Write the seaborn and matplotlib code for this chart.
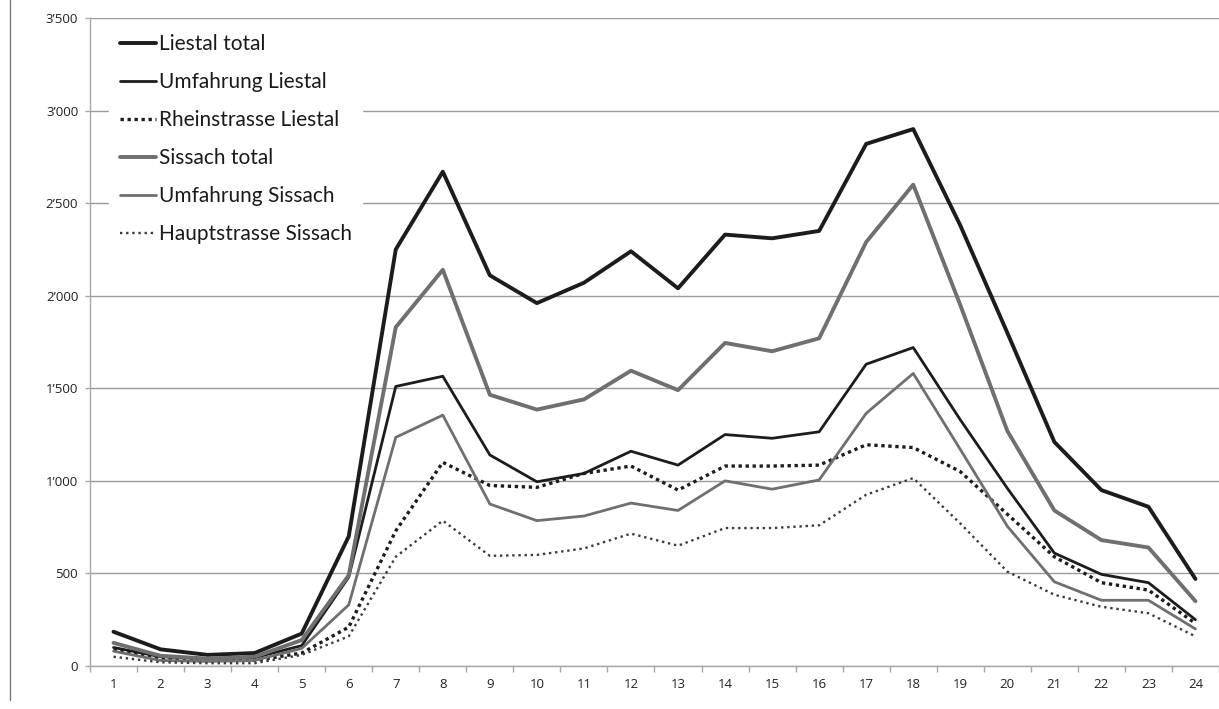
import matplotlib
matplotlib.use("Agg")
import matplotlib.pyplot as plt
from matplotlib.ticker import FuncFormatter, MultipleLocator, FixedLocator
from matplotlib.lines import Line2D
import seaborn as sns
import pandas as pd

hours = list(range(1, 25))

liestal_total = [185, 90, 60, 70, 175, 700, 2250, 2670, 2110, 1960, 2070, 2240,
                 2040, 2330, 2310, 2350, 2820, 2900, 2380, 1800, 1210, 950, 860, 470]
umfahrung_liestal = [100, 50, 40, 45, 110, 480, 1510, 1565, 1140, 995, 1040, 1160,
                     1085, 1250, 1230, 1265, 1630, 1720, 1330, 960, 610, 495, 450, 250]
rheinstrasse_liestal = [90, 40, 30, 30, 70, 210, 730, 1100, 975, 965, 1040, 1080,
                        950, 1080, 1080, 1085, 1195, 1180, 1050, 820, 590, 450, 410, 230]
sissach_total = [125, 55, 40, 50, 140, 490, 1830, 2140, 1465, 1385, 1440, 1595,
                 1490, 1745, 1700, 1770, 2290, 2600, 1950, 1270, 840, 680, 640, 350]
umfahrung_sissach = [80, 30, 25, 30, 95, 330, 1235, 1355, 875, 785, 810, 880,
                     840, 1000, 955, 1005, 1365, 1580, 1170, 755, 455, 355, 355, 200]
hauptstrasse_sissach = [50, 20, 15, 15, 60, 160, 590, 785, 595, 600, 635, 715,
                        650, 745, 745, 760, 925, 1015, 770, 510, 385, 320, 285, 160]

series_names = ["Liestal total", "Umfahrung Liestal", "Rheinstrasse Liestal",
                "Sissach total", "Umfahrung Sissach", "Hauptstrasse Sissach"]
series_values = [liestal_total, umfahrung_liestal, rheinstrasse_liestal,
                 sissach_total, umfahrung_sissach, hauptstrasse_sissach]

styles = {
    "Liestal total":        dict(color="#1c1c1c", lw=2.8, ls="-"),
    "Umfahrung Liestal":    dict(color="#1c1c1c", lw=2.0, ls="-"),
    "Rheinstrasse Liestal": dict(color="#1c1c1c", lw=2.4, ls=(0, (1, 1.1))),
    "Sissach total":        dict(color="#6f6f6f", lw=2.8, ls="-"),
    "Umfahrung Sissach":    dict(color="#6f6f6f", lw=2.0, ls="-"),
    "Hauptstrasse Sissach": dict(color="#3a3a3a", lw=1.7, ls=(0, (1, 1.6))),
}

df = pd.DataFrame({
    "Stunde": hours * len(series_names),
    "Fahrzeuge": [v for vals in series_values for v in vals],
    "Serie": [n for n in series_names for _ in hours],
})

sns.set_theme(style="white")
plt.rcParams["font.family"] = ["Lato", "DejaVu Sans"]

fig = plt.figure(figsize=(12.19, 7.09), dpi=100)
ax = fig.add_axes([90 / 1219, 1 - 666 / 709, 1 - 90 / 1219, (666 - 18) / 709])

for name in series_names:
    st = styles[name]
    sns.lineplot(data=df[df["Serie"] == name], x="Stunde", y="Fahrzeuge", ax=ax,
                 color=st["color"], linewidth=st["lw"], linestyle=st["ls"],
                 label=name, zorder=3)

ax.set_xlim(0.5, 24.5)
ax.set_ylim(0, 3500)
ax.set_xlabel("")
ax.set_ylabel("")


def swiss_thousands(v, pos):
    s = f"{int(round(v)):,}"
    return s.replace(",", "\u2019")


ax.yaxis.set_major_locator(MultipleLocator(500))
ax.yaxis.set_major_formatter(FuncFormatter(swiss_thousands))
ax.xaxis.set_major_locator(FixedLocator(hours))
ax.xaxis.set_minor_locator(FixedLocator([h + 0.5 for h in range(0, 25)]))

ax.grid(axis="y", color="#9a9a9a", linewidth=1.0, zorder=0)
ax.grid(axis="x", visible=False)
for side in ["top", "right"]:
    ax.spines[side].set_visible(False)
ax.spines["left"].set_color("#a8a8a8")
ax.spines["bottom"].set_color("#a8a8a8")
ax.spines["left"].set_linewidth(1.0)
ax.spines["bottom"].set_linewidth(1.0)

ax.tick_params(axis="y", which="major", left=True, length=3.5, width=1, color="#a8a8a8",
               labelsize=9.5, labelcolor="#222222", pad=5)
ax.tick_params(axis="x", which="major", bottom=False, length=0, labelsize=9.5,
               labelcolor="#222222", pad=9)
ax.tick_params(axis="x", which="minor", bottom=True, length=4, width=1, color="#a8a8a8")
for lab in ax.get_yticklabels() + ax.get_xticklabels():
    lab.set_family(["Open Sans", "DejaVu Sans"])

leg = ax.legend(loc="upper left", frameon=True,
                fontsize=15, handlelength=1.75, handletextpad=0.12,
                labelspacing=0.86, borderpad=0.5, borderaxespad=0.0,
                facecolor="white", edgecolor="white", framealpha=1.0, fancybox=False,
                bbox_to_anchor=(0.017, 1 - 6 / 648), bbox_transform=ax.transAxes)
leg.set_zorder(5)
for t in leg.get_texts():
    t.set_color("#1a1a1a")

# thin page border line at the far left
fig.add_artist(Line2D([10 / 1219, 10 / 1219], [1 - 700 / 709, 1.0],
                      transform=fig.transFigure, color="#7a7a7a", linewidth=1.0))

fig.savefig("out.png", dpi=100, facecolor="white")
